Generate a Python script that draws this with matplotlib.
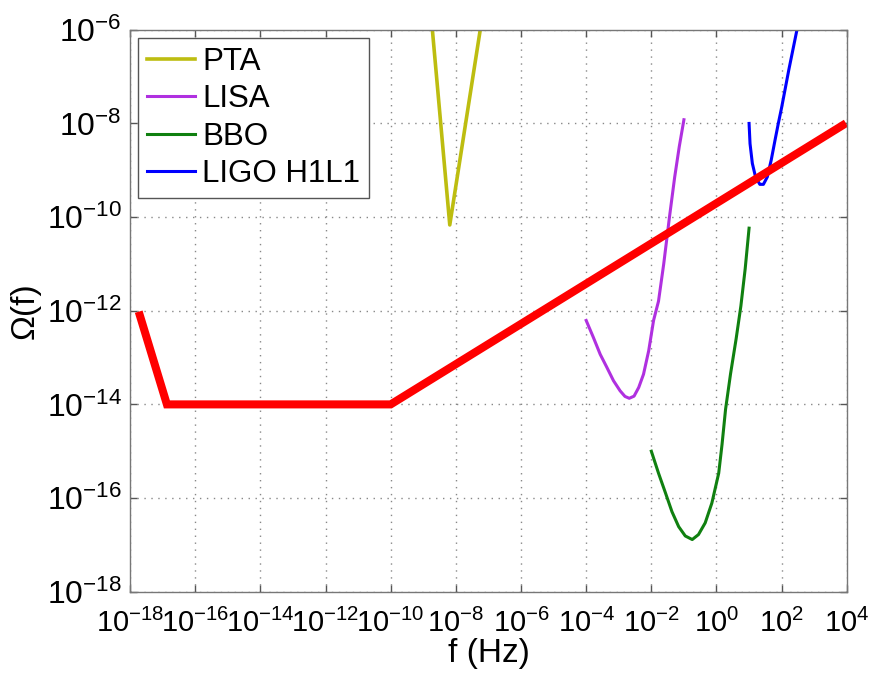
"""Omega(f) sensitivity curves against a broken power-law spectrum, log-log."""

import matplotlib
matplotlib.use("Agg")
import matplotlib.pyplot as plt  # noqa: E402
from matplotlib.ticker import FixedLocator, NullLocator  # noqa: E402

plt.rcParams.update({
    "font.family": ["Liberation Sans", "DejaVu Sans"],
    "font.size": 22,
    "axes.linewidth": 1.0,
})

# curves (f in Hz, Omega dimensionless)
pta_f = [1.9e-9, 6.5e-9, 5.6e-8]
pta_omega = [1.0e-6, 6.8e-11, 1.0e-6]

lisa_f = [1.0e-4, 1.66e-4, 2.7e-4, 4.3e-4, 6.9e-4, 1.1e-3, 1.55e-3, 2.1e-3,
          2.95e-3, 4.1e-3, 5.75e-3, 8.3e-3, 1.17e-2, 1.66e-2, 2.4e-2, 3.6e-2,
          5.2e-2, 7.2e-2, 1.0e-1]
lisa_omega = [6.2e-13, 2.7e-13, 1.17e-13, 6.2e-14, 3.2e-14, 1.95e-14, 1.48e-14,
              1.35e-14, 1.5e-14, 2.3e-14, 4.4e-14, 1.4e-13, 6.2e-13, 1.6e-12,
              1.0e-11, 1.0e-10, 7.1e-10, 3.2e-9, 1.2e-8]

bbo_f = [1.0e-2, 1.66e-2, 2.7e-2, 4.3e-2, 6.9e-2, 1.1e-1, 1.8e-1, 2.8e-1,
         4.5e-1, 7.2e-1, 1.17, 1.48, 1.9, 2.7, 4.0, 5.6, 7.6, 10.0]
bbo_omega = [1.0e-15, 3.4e-16, 1.3e-16, 5.1e-17, 2.45e-17, 1.55e-17, 1.3e-17,
             1.66e-17, 2.95e-17, 7.8e-17, 3.4e-16, 1.4e-15, 7.9e-15, 4.5e-14,
             2.5e-13, 1.26e-12, 7.9e-12, 5.8e-11]

ligo_f = [10.0, 10.7, 12.6, 15.8, 21.4, 27.5, 36.3, 47.9, 63.0, 79.0, 100.0,
          166.0, 295.0]
ligo_omega = [1.0e-8, 3.7e-9, 1.4e-9, 7.2e-10, 5.0e-10, 5.0e-10, 7.2e-10,
              1.66e-9, 4.5e-9, 1.0e-8, 2.2e-8, 1.4e-7, 1.0e-6]

model_f = [2.0e-18, 1.35e-17, 1.0e-10, 7.4e3]
model_omega = [7.9e-13, 1.0e-14, 1.0e-14, 9.1e-9]

x_ticks = [1e-18, 1e-16, 1e-14, 1e-12, 1e-10, 1e-8, 1e-6, 1e-4, 1e-2, 1e0, 1e2, 1e4]
y_ticks = [1e-18, 1e-16, 1e-14, 1e-12, 1e-10, 1e-8, 1e-6]

fig = plt.figure(figsize=(8.73, 6.77), dpi=100)
ax = fig.add_axes([0.149, 0.126, 0.821, 0.830])

ax.plot(pta_f, pta_omega, color="#BDBD10", lw=2.6, label="PTA")
ax.plot(lisa_f, lisa_omega, color="#B030E0", lw=2.2, label="LISA")
ax.plot(bbo_f, bbo_omega, color="#108010", lw=2.2, label="BBO")
ax.plot(ligo_f, ligo_omega, color="#0000FF", lw=2.2, label="LIGO H1L1")
ax.plot(model_f, model_omega, color="#FF0000", lw=5.8, solid_joinstyle="miter")

ax.set_xscale("log")
ax.set_yscale("log")
ax.set_xlim(1e-18, 1e4)
ax.set_ylim(1e-18, 1e-6)
ax.xaxis.set_major_locator(FixedLocator(x_ticks))
ax.yaxis.set_major_locator(FixedLocator(y_ticks))
ax.xaxis.set_minor_locator(NullLocator())
ax.yaxis.set_minor_locator(NullLocator())
ax.tick_params(direction="in", top=True, right=True, length=5, width=1,
               color="#555555", labelsize=23)
ax.tick_params(axis="x", pad=12, labelsize=21)
ax.tick_params(axis="y", pad=6)
for s in ax.spines.values():
    s.set_color("#777777")
ax.grid(True, which="major", linestyle=(0, (1, 4)), color="#888888", lw=1.0)

ax.set_xlabel("f (Hz)", fontsize=24, labelpad=0)
ax.set_ylabel("Ω(f)", fontsize=24, labelpad=4)

ax.legend(loc="upper left", fontsize=22.5, handlelength=1.55, handletextpad=0.22,
          labelspacing=0.24, borderpad=0.28, borderaxespad=0.26, fancybox=False,
          edgecolor="#555555", framealpha=1.0)

fig.savefig("out.png", dpi=100)
